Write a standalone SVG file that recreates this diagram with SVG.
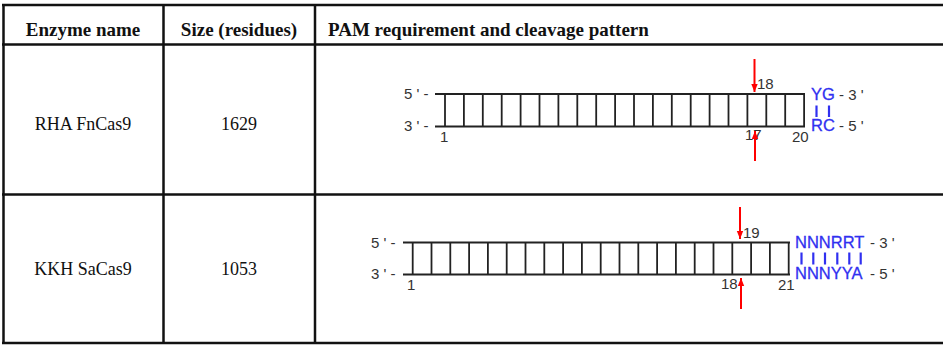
<svg xmlns="http://www.w3.org/2000/svg" width="943" height="346" viewBox="0 0 943 346">
<style>
.grid{stroke:#111;stroke-width:2.5;fill:none}
.hd{font-family:"Liberation Serif",serif;font-weight:bold;font-size:19px;fill:#111}
.bd{font-family:"Liberation Serif",serif;font-size:18px;fill:#111;text-anchor:middle}
.lad{stroke:#222;stroke-width:2;fill:none}
.rung{stroke:#222;stroke-width:1.8}
.lb{font-family:"Liberation Sans",sans-serif;font-size:15px;fill:#333}
.pam{font-family:"Liberation Sans",sans-serif;font-size:16.5px;fill:#3030f0;stroke:#3030f0;stroke-width:0.3}
.bar{stroke:#3030f0;stroke-width:2.2}
.cut{stroke:#f00;stroke-width:2;fill:none}
</style>
<defs>
<marker id="ah" markerWidth="8" markerHeight="11" refX="10" refY="4" orient="auto" markerUnits="userSpaceOnUse" viewBox="0 0 10 8">
<path d="M0,0 L10,4 L0,8 Z" fill="#f00"/>
</marker>
</defs>
<g id="table">
<line class="grid" x1="2" y1="5" x2="943" y2="5"/>
<line class="grid" x1="2" y1="44.5" x2="943" y2="44.5"/>
<line class="grid" x1="2" y1="194.5" x2="943" y2="194.5"/>
<line class="grid" x1="2" y1="343" x2="943" y2="343"/>
<line class="grid" x1="3.5" y1="4" x2="3.5" y2="344"/>
<line class="grid" x1="163.5" y1="5" x2="163.5" y2="343"/>
<line class="grid" x1="315" y1="5" x2="315" y2="343"/>
</g>
<g id="header">
<text class="hd" x="83" y="36" text-anchor="middle">Enzyme name</text>
<text class="hd" x="239" y="36" text-anchor="middle">Size (residues)</text>
<text class="hd" x="328" y="36">PAM requirement and cleavage pattern</text>
</g>
<g id="row1">
<text class="bd" x="83" y="130">RHA FnCas9</text>
<text class="bd" x="239" y="130">1629</text>
</g>
<g id="row2">
<text class="bd" x="83" y="275">KKH SaCas9</text>
<text class="bd" x="239" y="275">1053</text>
</g>
<g id="pam1">
<text class="lb" x="404" y="99">5 ' -</text>
<text class="lb" x="404" y="131">3 ' -</text>
<line class="lad" x1="435" y1="94" x2="805" y2="94"/>
<line class="lad" x1="435" y1="126.5" x2="805" y2="126.5"/>
<g class="rung">
<line x1="445" y1="94" x2="445" y2="126.5"/><line x1="463.9" y1="94" x2="463.9" y2="126.5"/><line x1="482.8" y1="94" x2="482.8" y2="126.5"/><line x1="501.7" y1="94" x2="501.7" y2="126.5"/><line x1="520.6" y1="94" x2="520.6" y2="126.5"/><line x1="539.5" y1="94" x2="539.5" y2="126.5"/><line x1="558.4" y1="94" x2="558.4" y2="126.5"/><line x1="577.3" y1="94" x2="577.3" y2="126.5"/><line x1="596.2" y1="94" x2="596.2" y2="126.5"/><line x1="615.1" y1="94" x2="615.1" y2="126.5"/><line x1="634" y1="94" x2="634" y2="126.5"/><line x1="652.9" y1="94" x2="652.9" y2="126.5"/><line x1="671.8" y1="94" x2="671.8" y2="126.5"/><line x1="690.7" y1="94" x2="690.7" y2="126.5"/><line x1="709.6" y1="94" x2="709.6" y2="126.5"/><line x1="728.5" y1="94" x2="728.5" y2="126.5"/><line x1="747.4" y1="94" x2="747.4" y2="126.5"/><line x1="766.3" y1="94" x2="766.3" y2="126.5"/><line x1="785.2" y1="94" x2="785.2" y2="126.5"/><line x1="804.1" y1="94" x2="804.1" y2="126.5"/>
</g>
<text class="lb" x="440" y="142">1</text>
<text class="lb" x="757" y="89">18</text>
<text class="lb" x="745" y="140">17</text>
<text class="lb" x="792" y="142">20</text>
<text class="pam" x="811" y="100">YG</text>
<text class="pam" x="811" y="131">RC</text>
<line class="bar" x1="816.5" y1="105.5" x2="816.5" y2="117"/>
<line class="bar" x1="829" y1="105.5" x2="829" y2="117"/>
<text class="lb" x="839" y="100">- 3 '</text>
<text class="lb" x="839" y="131">- 5 '</text>
</g>
<g id="pam2">
<text class="lb" x="371" y="248">5 ' -</text>
<text class="lb" x="371" y="279">3 ' -</text>
<line class="lad" x1="403" y1="242.5" x2="790" y2="242.5"/>
<line class="lad" x1="403" y1="274.5" x2="790" y2="274.5"/>
<g class="rung">
<line x1="412.7" y1="242.5" x2="412.7" y2="274.5"/><line x1="431.5" y1="242.5" x2="431.5" y2="274.5"/><line x1="450.3" y1="242.5" x2="450.3" y2="274.5"/><line x1="469.1" y1="242.5" x2="469.1" y2="274.5"/><line x1="487.9" y1="242.5" x2="487.9" y2="274.5"/><line x1="506.7" y1="242.5" x2="506.7" y2="274.5"/><line x1="525.5" y1="242.5" x2="525.5" y2="274.5"/><line x1="544.3" y1="242.5" x2="544.3" y2="274.5"/><line x1="563.1" y1="242.5" x2="563.1" y2="274.5"/><line x1="581.9" y1="242.5" x2="581.9" y2="274.5"/><line x1="600.7" y1="242.5" x2="600.7" y2="274.5"/><line x1="619.5" y1="242.5" x2="619.5" y2="274.5"/><line x1="638.3" y1="242.5" x2="638.3" y2="274.5"/><line x1="657.1" y1="242.5" x2="657.1" y2="274.5"/><line x1="675.9" y1="242.5" x2="675.9" y2="274.5"/><line x1="694.7" y1="242.5" x2="694.7" y2="274.5"/><line x1="713.5" y1="242.5" x2="713.5" y2="274.5"/><line x1="732.3" y1="242.5" x2="732.3" y2="274.5"/><line x1="751.1" y1="242.5" x2="751.1" y2="274.5"/><line x1="769.9" y1="242.5" x2="769.9" y2="274.5"/><line x1="788.7" y1="242.5" x2="788.7" y2="274.5"/>
</g>
<text class="lb" x="407" y="290">1</text>
<text class="lb" x="743" y="238">19</text>
<text class="lb" x="721" y="289">18</text>
<text class="lb" x="778" y="290">21</text>
<text class="pam" x="795" y="248">NNNRRT</text>
<text class="pam" x="795" y="279">NNNYYA</text>
<g class="bar">
<line x1="801.5" y1="252.5" x2="801.5" y2="264.5"/><line x1="813.3" y1="252.5" x2="813.3" y2="264.5"/><line x1="825" y1="252.5" x2="825" y2="264.5"/><line x1="837.3" y1="252.5" x2="837.3" y2="264.5"/><line x1="849.3" y1="252.5" x2="849.3" y2="264.5"/><line x1="860.7" y1="252.5" x2="860.7" y2="264.5"/>
</g>
<text class="lb" x="870" y="248">- 3 '</text>
<text class="lb" x="870" y="279">- 5 '</text>
</g>
<g id="connectors">
<line class="cut" x1="754.5" y1="59" x2="754.5" y2="92" marker-end="url(#ah)"/>
<line class="cut" x1="755" y1="161" x2="755" y2="131" marker-end="url(#ah)"/>
<line class="cut" x1="740" y1="207" x2="740" y2="239" marker-end="url(#ah)"/>
<line class="cut" x1="741" y1="309" x2="741" y2="278" marker-end="url(#ah)"/>
</g>
</svg>
